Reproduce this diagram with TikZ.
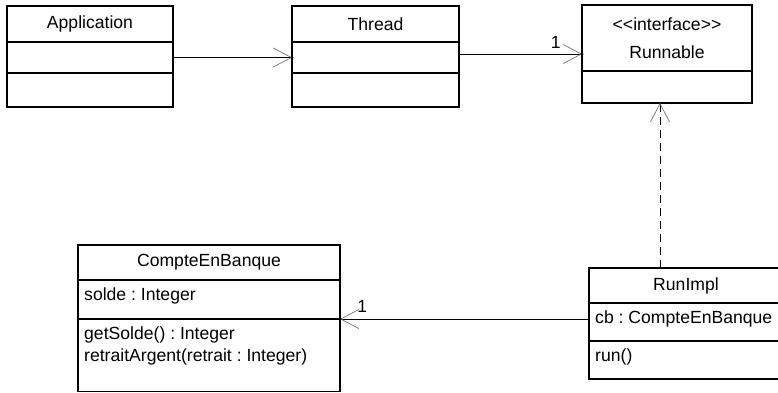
\documentclass[tikz,border=0pt]{standalone}
\usepackage{fontspec}
\setmainfont{Liberation Sans}
\usetikzlibrary{positioning,arrows.meta,calc}
\newcommand{\umlfont}{\fontsize{17.6}{22}\selectfont\frenchspacing}
\tikzset{
  ctitle/.style ={draw, line width=1.2pt, inner sep=0pt, outer sep=0pt, align=center, font=\umlfont},
  cpart/.style  ={draw, line width=1.2pt, inner sep=0pt, outer sep=0pt},
  member/.style ={anchor=north west, inner xsep=6pt, inner ysep=8pt, align=left, font=\umlfont},
  assoc/.style  ={-{Straight Barb[length=18pt,width=19pt,line width=0.7pt,color=black!55]}, line width=0.9pt},
  realize/.style={assoc, dash pattern=on 8pt off 5pt},
  mult/.style   ={font=\umlfont, inner sep=2pt},
  tipdot/.style ={fill=black},
}

\begin{document}
\begin{tikzpicture}[x=1pt,y=-1pt]
    \useasboundingbox (0,0) rectangle (778,393);
    % top row
    \node[ctitle, minimum width=166pt, minimum height=36pt] (app-t) at (90,24) {Application};
    \node[cpart, minimum width=166pt, minimum height=31pt, below=0pt of app-t] (app-a) {};
    \node[cpart, minimum width=166pt, minimum height=34pt, below=0pt of app-a] (app-o) {};
    \node[ctitle, minimum width=167pt, minimum height=36pt] (thr-t) at (375.5,24) {Thread};
    \node[cpart, minimum width=167pt, minimum height=31pt, below=0pt of thr-t] (thr-a) {};
    \node[cpart, minimum width=167pt, minimum height=34pt, below=0pt of thr-a] (thr-o) {};
    \node[ctitle, minimum width=170pt, minimum height=66pt] (run-t) at (667,38) {<{}<interface>{}>\\[6pt]Runnable};
    \node[cpart, minimum width=170pt, minimum height=32pt, below=0pt of run-t] (run-o) {};
    % bottom row
    \node[ctitle, minimum width=194pt, minimum height=35pt] (ri-t) at (686,285.5) {RunImpl};
    \node[cpart, minimum width=194pt, minimum height=38pt, below=0pt of ri-t] (ri-a) {};
    \node[member] (ri-cb) at (ri-a.north west) {cb : CompteEnBanque};
    \node[cpart, minimum width=194pt, minimum height=38pt, below=0pt of ri-a] (ri-o) {};
    \node[member] (ri-run) at (ri-o.north west) {run()};
    \node[ctitle, minimum width=262pt, minimum height=35pt] (cb-t) at (209,262.5) {CompteEnBanque};
    \node[cpart, minimum width=262pt, minimum height=39pt, below=0pt of cb-t] (cb-a) {};
    \node[member] (cb-solde) at (cb-a.north west) {solde : Integer};
    \node[cpart, minimum width=262pt, minimum height=72.5pt, below=0pt of cb-a] (cb-o) {};
    \node[member] (cb-ops) at (cb-o.north west) {getSolde() : Integer\\retraitArgent(retrait : Integer)};
    % connectors
    \draw[assoc] (app-a.east) -- (thr-a.west);
    \fill[tipdot] (thr-a.west) circle (1.6pt);
    \coordinate (thr-out) at ([yshift=3.5pt]thr-a.east);
    \draw[assoc] (thr-out) -- (thr-out -| run-t.west)
        node[mult, pos=1, anchor=south east, xshift=-19pt, yshift=3pt] (m-run) {1};
    \fill[tipdot] (thr-out -| run-t.west) circle (1.6pt);
    \coordinate (real-x) at ([xshift=-7pt]run-o.south);
    \draw[realize] (ri-t.north -| real-x) -- (real-x);
    \coordinate (ri-out) at ([yshift=3pt]ri-a.west);
    \draw[assoc] (ri-out) -- (ri-out -| cb-a.east)
        node[mult, pos=1, anchor=south west, xshift=15pt, yshift=4pt] (m-cb) {1};
    \fill[tipdot] (ri-out -| cb-a.east) circle (1.6pt);
\end{tikzpicture}
\end{document}
